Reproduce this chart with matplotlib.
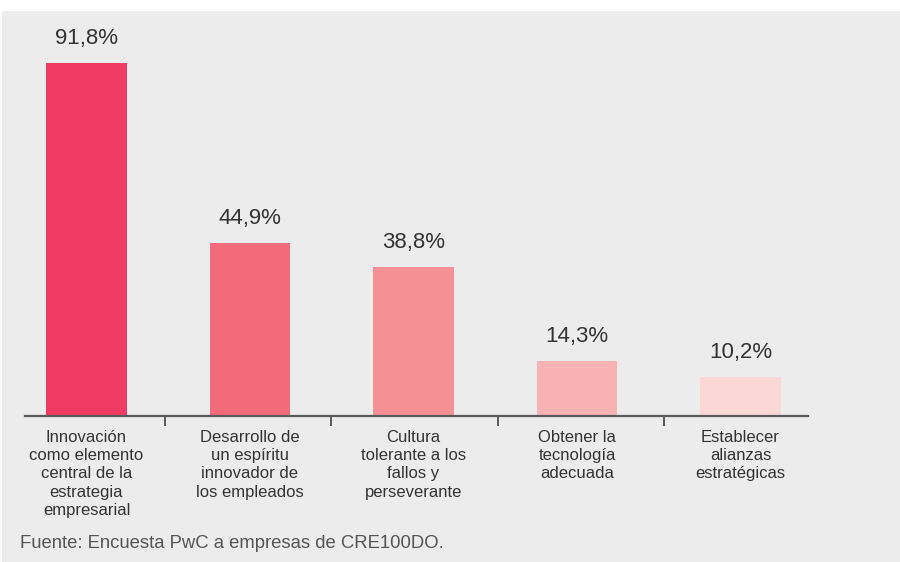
import matplotlib.pyplot as plt
from matplotlib.patches import Rectangle

categories = [
    "Innovación\ncomo elemento\ncentral de la\nestrategia\nempresarial",
    "Desarrollo de\nun espíritu\ninnovador de\nlos empleados",
    "Cultura\ntolerante a los\nfallos y\nperseverante",
    "Obtener la\ntecnología\nadecuada",
    "Establecer\nalianzas\nestratégicas",
]
values = [91.8, 44.9, 38.8, 14.3, 10.2]
value_labels = ["91,8%", "44,9%", "38,8%", "14,3%", "10,2%"]
colors = ["#f03c64", "#f26b7a", "#f59094", "#f8b2b2", "#fbd7d6"]

plt.rcParams['font.family'] = ['Liberation Sans', 'DejaVu Sans']
text_color = "#333333"

fig = plt.figure(figsize=(9, 5.62), dpi=100, facecolor="white")
# gray panel behind everything
fig.patches.append(Rectangle((2 / 900, 0), 1, (562 - 11) / 562, transform=fig.transFigure,
                             facecolor="#ececec", edgecolor="none", zorder=-10))

ax = fig.add_axes([25 / 900, (562 - 416) / 562, (808 - 25) / 900, (416 - 31.5) / 562])
ax.set_facecolor("none")

x = list(range(len(values)))
ax.bar(x, values, width=0.495, color=colors, zorder=2)

for xi, v, lab in zip(x, values, value_labels):
    ax.annotate(lab, (xi, v), xytext=(0, 10), textcoords="offset points",
                ha="center", va="bottom", fontsize=16, color=text_color)

ax.set_xlim(-0.376, 4.413)
ax.set_ylim(0, 100)

for s in ["top", "right", "left"]:
    ax.spines[s].set_visible(False)
ax.spines["bottom"].set_color("#5a5a5a")
ax.spines["bottom"].set_linewidth(1.6)
ax.spines["bottom"].set_zorder(3)
ax.set_yticks([])

# ticks between categories
ax.set_xticks([0.48, 1.495, 2.515, 3.53])
ax.set_xticklabels([])
ax.tick_params(axis="x", which="major", direction="out", length=7, width=1.4, color="#5a5a5a")

# category labels
ax.set_xticks(x, minor=True)
ax.set_xticklabels(categories, minor=True, fontsize=12, color=text_color, linespacing=1.27)
ax.tick_params(axis="x", which="minor", length=0, pad=10)

fig.text(20 / 900, (562 - 548) / 562, "Fuente: Encuesta PwC a empresas de CRE100DO.",
         fontsize=13.3, color="#555555", ha="left", va="baseline")

fig.savefig("out.png", dpi=100, facecolor=fig.get_facecolor())
